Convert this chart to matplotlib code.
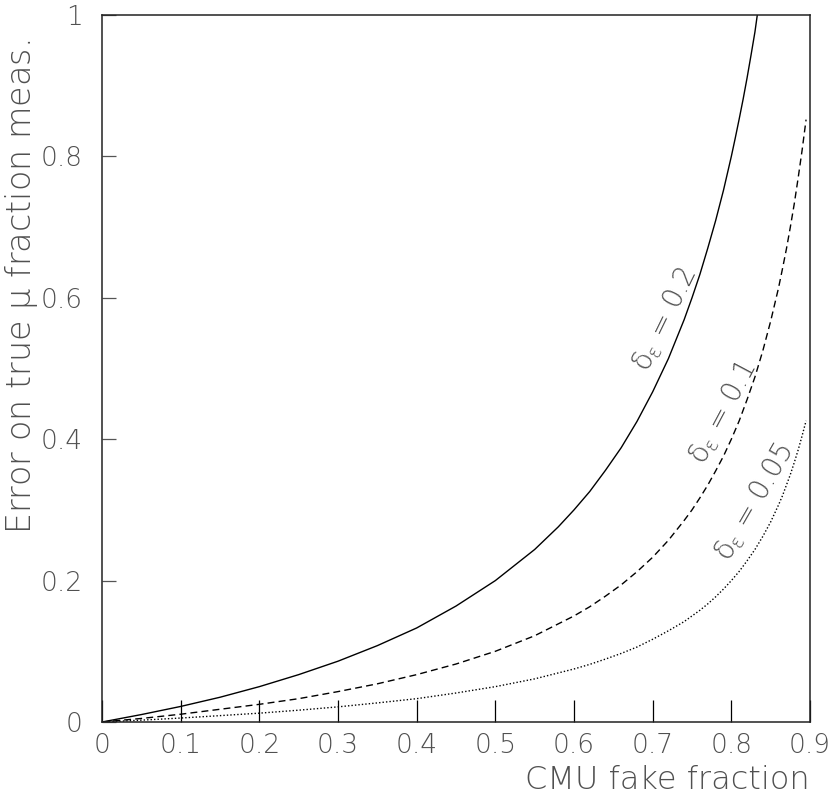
import matplotlib
matplotlib.use("Agg")
import matplotlib.pyplot as plt

# fake fraction values (x) and error readings for each curve
x_solid = [0.0, 0.05, 0.10, 0.15, 0.20, 0.25, 0.30, 0.35, 0.40, 0.45, 0.50, 0.55, 0.58,
           0.60, 0.62, 0.64, 0.66, 0.68, 0.70, 0.72, 0.74, 0.75, 0.76, 0.77, 0.78, 0.79,
           0.80, 0.805, 0.81, 0.815, 0.82, 0.825, 0.83, 0.833]
y_solid = [0.0, 0.0105, 0.022, 0.035, 0.050, 0.067, 0.086, 0.108, 0.133, 0.164, 0.200, 0.244, 0.276,
           0.300, 0.326, 0.356, 0.388, 0.425, 0.467, 0.514, 0.569, 0.600, 0.633, 0.670, 0.709, 0.752,
           0.800, 0.826, 0.853, 0.881, 0.911, 0.943, 0.976, 1.0]

x_dash = [0.0, 0.05, 0.10, 0.15, 0.20, 0.25, 0.30, 0.35, 0.40, 0.45, 0.50, 0.55, 0.60,
          0.62, 0.64, 0.66, 0.68, 0.70, 0.72, 0.74, 0.75, 0.76, 0.77, 0.78, 0.79, 0.80, 0.81,
          0.82, 0.83, 0.84, 0.85, 0.86, 0.865, 0.87, 0.875, 0.88, 0.885, 0.89, 0.895]
y_dash = [0.0, 0.005, 0.011, 0.018, 0.025, 0.033, 0.043, 0.054, 0.067, 0.082, 0.100, 0.122, 0.150,
          0.163, 0.178, 0.194, 0.2125, 0.233, 0.257, 0.285, 0.300, 0.317, 0.335, 0.355, 0.376, 0.400, 0.426,
          0.456, 0.488, 0.525, 0.567, 0.614, 0.641, 0.669, 0.700, 0.733, 0.770, 0.809, 0.852]

x_dot = x_dash
y_dot = [0.0, 0.0026, 0.0056, 0.009, 0.0125, 0.0167, 0.0214, 0.027, 0.033, 0.041, 0.050, 0.061, 0.075,
         0.0815, 0.089, 0.097, 0.106, 0.117, 0.129, 0.142, 0.150, 0.158, 0.167, 0.177, 0.188, 0.200, 0.213,
         0.228, 0.244, 0.2625, 0.283, 0.307, 0.320, 0.335, 0.350, 0.367, 0.385, 0.405, 0.426]

labels = [r"$\delta_{\epsilon}$ = 0.2", r"$\delta_{\epsilon}$ = 0.1", r"$\delta_{\epsilon}$ = 0.05"]
label_x = [0.716, 0.789, 0.830]
label_y = [0.569, 0.437, 0.311]
label_rot = [64, 62, 60]

xticks = [0, 0.1, 0.2, 0.3, 0.4, 0.5, 0.6, 0.7, 0.8, 0.9]
xticklabels = ["0", "0.1", "0.2", "0.3", "0.4", "0.5", "0.6", "0.7", "0.8", "0.9"]
yticks = [0, 0.2, 0.4, 0.6, 0.8, 1.0]
yticklabels = ["0", "0.2", "0.4", "0.6", "0.8", "1"]

plt.rcParams['font.family'] = ['DejaVu Sans']
plt.rcParams['font.weight'] = 'light'
plt.rcParams['mathtext.fontset'] = 'custom'
plt.rcParams['mathtext.rm'] = 'DejaVu Sans:light'
plt.rcParams['mathtext.it'] = 'DejaVu Sans:light'
plt.rcParams['mathtext.bf'] = 'DejaVu Sans:light'
plt.rcParams['mathtext.sf'] = 'DejaVu Sans:light'
txtc = '#505050'

fig = plt.figure(figsize=(8.30, 7.98), dpi=100)
ax = fig.add_axes([102/830, 1-722/798, 708/830, 707/798])

ax.plot(x_solid, y_solid, color='black', lw=1.0, ls='-')
ax.plot(x_dash, y_dash, color='black', lw=1.0, ls=(0, (5, 3)))
ax.plot(x_dot, y_dot, color='black', lw=1.0, ls=(0, (1, 1.5)))

for t, lx, ly, r in zip(labels, label_x, label_y, label_rot):
    ax.text(lx, ly, t, rotation=r, ha='center', va='center', fontsize=20, color=txtc,
            rotation_mode='anchor', fontweight='light')

ax.set_xlim(0, 0.9)
ax.set_ylim(0, 1)
ax.set_xticks(xticks)
ax.set_xticklabels(xticklabels, fontweight='light')
ax.set_yticks(yticks)
ax.set_yticklabels(yticklabels, fontweight='light')
ax.tick_params(axis='x', direction='in', length=16, width=0.9, pad=8, labelsize=19,
               labelcolor=txtc, color='black')
ax.tick_params(axis='y', direction='in', length=10, width=0.9, pad=14, labelsize=19,
               labelcolor=txtc, color='#555555')
for s in ax.spines.values():
    s.set_linewidth(1.1)
    s.set_color('#222222')

fig.text(810/830, 1-780/798, "CMU fake fraction", ha='right', va='center', fontsize=23,
         color=txtc, fontweight='light')
fig.text(22/830, 1-40/798, r"Error on true $\mu$ fraction meas.", ha='center', va='top',
         rotation=90, fontsize=24, color=txtc, fontweight='light')

fig.savefig("out.png", dpi=100)
